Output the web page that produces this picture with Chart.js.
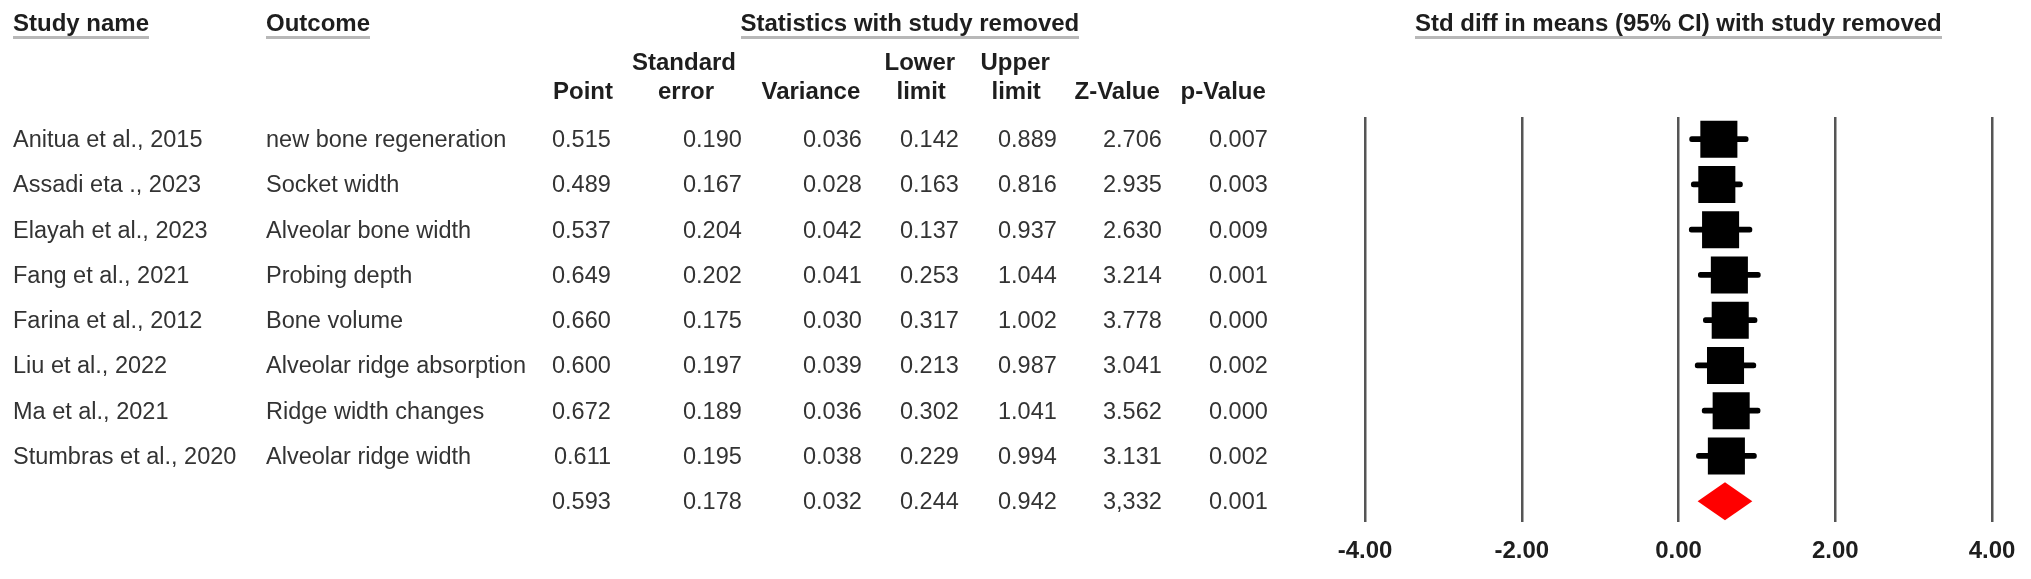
<!DOCTYPE html>
<html>
<head>
<meta charset="utf-8">
<script src="https://cdn.jsdelivr.net/npm/chart.js@4.4.1/dist/chart.umd.min.js"></script>
<style>
  html, body { margin: 0; padding: 0; background: #fff; }
  #wrap { position: relative; width: 2031px; height: 579px; overflow: hidden;
          font-family: "Liberation Sans", Arial, sans-serif; }
  #plot { position: absolute; left: 0; top: 0; }
  .t { position: absolute; white-space: nowrap; font-size: 23.5px; line-height: 28px; color: #333; }
  .h { font-size: 24px; font-weight: bold; color: #1e1e1e; }
  .u { line-height: 26px; border-bottom: 3px solid #b8b8b8; }
</style>
</head>
<body>
<div id="wrap"><canvas id="plot" width="2031" height="579"></canvas></div>
<script>
// ── data (last entry = overall effect) ──
const studies  = ['Anitua et al., 2015', 'Assadi eta ., 2023', 'Elayah et al., 2023', 'Fang et al., 2021',
                  'Farina et al., 2012', 'Liu et al., 2022', 'Ma et al., 2021', 'Stumbras et al., 2020', ''];
const outcomes = ['new bone regeneration', 'Socket width', 'Alveolar bone width', 'Probing depth',
                  'Bone volume', 'Alveolar ridge absorption', 'Ridge width changes', 'Alveolar ridge width', ''];
const point    = [0.515, 0.489, 0.537, 0.649, 0.660, 0.600, 0.672, 0.611, 0.593];
const stdErr   = [0.190, 0.167, 0.204, 0.202, 0.175, 0.197, 0.189, 0.195, 0.178];
const variance = [0.036, 0.028, 0.042, 0.041, 0.030, 0.039, 0.036, 0.038, 0.032];
const lower    = [0.142, 0.163, 0.137, 0.253, 0.317, 0.213, 0.302, 0.229, 0.244];
const upper    = [0.889, 0.816, 0.937, 1.044, 1.002, 0.987, 1.041, 0.994, 0.942];
const zValue   = ['2.706', '2.935', '2.630', '3.214', '3.778', '3.041', '3.562', '3.131', '3,332'];
const pValue   = [0.007, 0.003, 0.009, 0.001, 0.000, 0.002, 0.000, 0.002, 0.001];
const xTicks   = [-4, -2, 0, 2, 4];

const nStudies = studies.length - 1;
const overall  = nStudies;

// ── marks built from the arrays ──
const boxes    = point.slice(0, nStudies).map((p, i) => ({ x: p, y: i }));
const whiskers = lower.slice(0, nStudies).map((lo, i) => ({ x: [lo, upper[i]], y: i }));
const dHalf    = 0.42;  // half height of the diamond, in rows
const diamond  = [
  { x: lower[overall], y: overall },
  { x: point[overall], y: overall - dHalf },
  { x: upper[overall], y: overall },
  { x: point[overall], y: overall + dHalf },
  { x: lower[overall], y: overall }
];

const chart = new Chart(document.getElementById('plot'), {
  type: 'bar',
  data: {
    datasets: [
      { type: 'scatter', data: boxes, pointStyle: 'rect', pointRadius: 26.2,
        backgroundColor: '#000', borderWidth: 0, clip: false },
      { type: 'bar', indexAxis: 'y', data: whiskers, barThickness: 5, borderRadius: 3,
        borderSkipped: false, backgroundColor: '#000' },
      { type: 'scatter', data: diamond, showLine: true, fill: 'shape', pointRadius: 0,
        borderWidth: 0, borderColor: '#f00', backgroundColor: '#f00', clip: false }
    ]
  },
  options: {
    responsive: false,
    animation: false,
    events: [],
    devicePixelRatio: 1,
    layout: { padding: { left: 1365, right: 39, top: 117, bottom: 0 } },
    plugins: { legend: { display: false }, tooltip: { enabled: false } },
    scales: {
      x: {
        type: 'linear', position: 'bottom', min: -4, max: 4, offset: false,
        afterBuildTicks: s => { s.ticks = xTicks.map(v => ({ value: v })); },
        afterFit: s => { s.height = 57; },
        grid: { color: '#555', lineWidth: 2.5, drawTicks: false, offset: false },
        border: { display: false },
        ticks: {
          callback: v => v.toFixed(2), padding: 15, color: '#1e1e1e',
          font: { family: '"Liberation Sans", Arial, sans-serif', size: 24, weight: 'bold' }
        }
      },
      y: {
        type: 'linear', display: false, reverse: true, min: -0.49, max: 8.46,
        offset: false, grid: { display: false, offset: false }
      }
    }
  }
});

// ── table text ──
const wrap = document.getElementById('wrap');
function put(text, x, y, align, cls) {
  const el = document.createElement('div');
  el.className = 't ' + (cls || '');
  el.textContent = text;
  wrap.appendChild(el);
  const w = el.offsetWidth;
  const left = align === 'right' ? x - w : align === 'center' ? x - w / 2 : x;
  el.style.left = left + 'px';
  el.style.top = (y - (cls && cls.includes('u') ? 13 : 14)) + 'px';
}

const area = chart.chartArea;
put('Study name', 13, 23, 'left', 'h u');
put('Outcome', 266, 23, 'left', 'h u');
put('Statistics with study removed', 910, 23, 'center', 'h u');
put('Std diff in means (95% CI) with study removed', (area.left + area.right) / 2, 23, 'center', 'h u');

put('Standard', 684, 62, 'center', 'h');
put('Lower', 920, 62, 'center', 'h');
put('Upper', 1015, 62, 'center', 'h');
put('Point', 583, 91, 'center', 'h');
put('error', 686, 91, 'center', 'h');
put('Variance', 811, 91, 'center', 'h');
put('limit', 921, 91, 'center', 'h');
put('limit', 1016, 91, 'center', 'h');
put('Z-Value', 1117, 91, 'center', 'h');
put('p-Value', 1223, 91, 'center', 'h');

const colRight = [611, 742, 862, 959, 1057, 1162, 1268];
const yScale = chart.scales.y;
studies.forEach((s, i) => {
  const y = yScale.getPixelForValue(i);
  if (s) put(s, 13, y, 'left');
  if (outcomes[i]) put(outcomes[i], 266, y, 'left');
  const cells = [point[i].toFixed(3), stdErr[i].toFixed(3), variance[i].toFixed(3),
                 lower[i].toFixed(3), upper[i].toFixed(3), zValue[i], pValue[i].toFixed(3)];
  cells.forEach((c, k) => put(c, colRight[k], y, 'right'));
});
</script>
</body>
</html>
